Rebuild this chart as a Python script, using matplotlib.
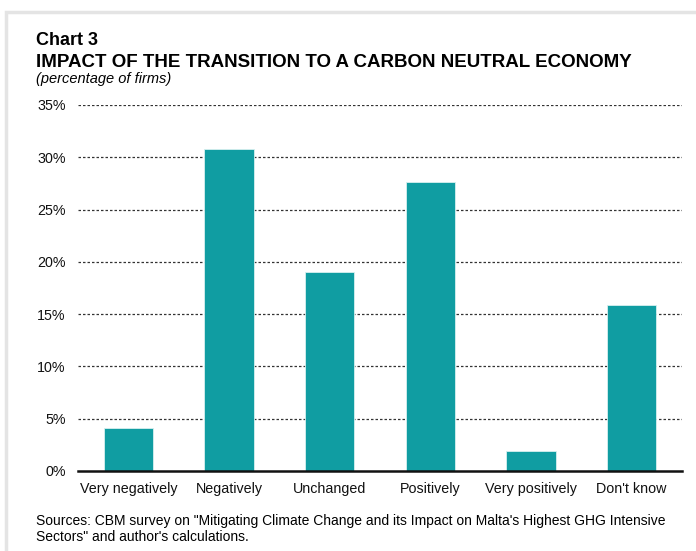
import matplotlib.pyplot as plt
from matplotlib.patches import Rectangle

plt.rcParams['font.family'] = ['Liberation Sans', 'DejaVu Sans']

categories = ['Very negatively', 'Negatively', 'Unchanged', 'Positively',
              'Very positively', "Don't know"]
shares = [4.1, 30.8, 19.0, 27.6, 1.9, 15.9]
y_ticks = [0, 5, 10, 15, 20, 25, 30, 35]
y_tick_labels = [f'{t}%' for t in y_ticks]

W, H = 696, 551
fig = plt.figure(figsize=(W / 100, H / 100), dpi=100)

# light grey frame on top and left edges
fig.patches.append(Rectangle((6 / W, -0.2), 1, (H - 12) / H + 0.2,
                             transform=fig.transFigure, fill=False,
                             edgecolor='#e4e4e4', linewidth=2.5))

ax = fig.add_axes([78 / W, (H - 471) / H, 604 / W, (471 - 105) / H])
ax.bar(range(len(categories)), shares, width=0.49, color='#109da2',
       edgecolor='#d8f0f0', linewidth=0.6, zorder=3)

ax.set_xlim(-0.5, len(categories) - 0.5)
ax.set_ylim(0, 35)
ax.set_yticks(y_ticks)
ax.set_yticklabels(y_tick_labels)
ax.set_xticks(range(len(categories)))
ax.set_xticklabels(categories)
ax.tick_params(axis='both', length=0, labelsize=10.3, colors='#111111')
ax.tick_params(axis='y', pad=9)
ax.tick_params(axis='x', pad=8)

for t in y_ticks[1:]:
    ax.axhline(t, color='#333333', linewidth=0.9, linestyle=(0, (2, 1.6)), zorder=1)

for side in ['top', 'right', 'left']:
    ax.spines[side].set_visible(False)
ax.spines['bottom'].set_linewidth(1.8)
ax.spines['bottom'].set_color('#111111')
ax.spines['bottom'].set_zorder(4)

fig.text(36 / W, 1 - 45 / H, 'Chart 3', fontsize=13, fontweight='bold', va='baseline')
fig.text(36 / W, 1 - 67 / H, 'IMPACT OF THE TRANSITION TO A CARBON NEUTRAL ECONOMY',
         fontsize=13.5, fontweight='bold', va='baseline')
fig.text(36 / W, 1 - 83 / H, '(percentage of firms)', fontsize=10.5, style='italic',
         va='baseline')
fig.text(36 / W, 1 - 541 / H,
         'Sources: CBM survey on "Mitigating Climate Change and its Impact on Malta\'s '
         'Highest GHG Intensive\nSectors" and author\'s calculations.',
         fontsize=10, va='baseline', linespacing=1.2)

fig.savefig('out.png', dpi=100)
